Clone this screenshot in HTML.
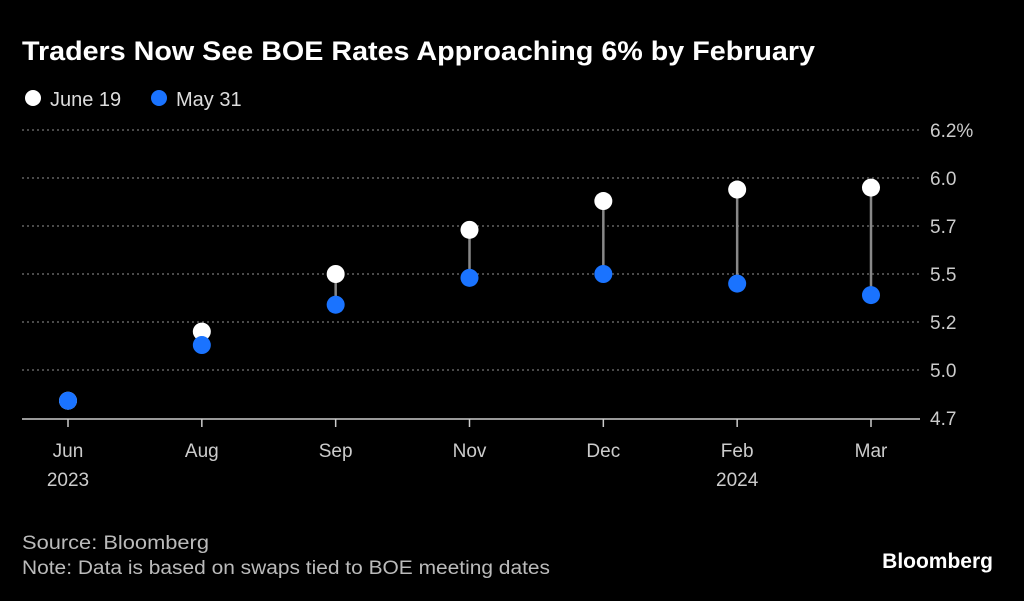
<!DOCTYPE html>
<html><head><meta charset="utf-8"><style>
body{margin:0;background:#000;width:1024px;height:596px;overflow:hidden;font-family:"Liberation Sans",sans-serif;color:#fff}
</style></head><body>
<svg width="1024" height="596" font-family="Liberation Sans, sans-serif">
<text x="22" y="60" font-size="27" font-weight="bold" fill="#fff" textLength="793" lengthAdjust="spacingAndGlyphs">Traders Now See BOE Rates Approaching 6% by February</text>
<g>
<circle cx="33" cy="98" r="8" fill="#fff"/>
<text x="50" y="106" font-size="20" fill="#ddd">June 19</text>
<circle cx="159" cy="98" r="8" fill="#1a73ff"/>
<text x="176" y="106" font-size="20" fill="#ddd">May 31</text>
</g>
<g id="grid"></g><g id="marks"></g>
<text x="22" y="549" font-size="19" fill="#bbb" textLength="187" lengthAdjust="spacingAndGlyphs">Source: Bloomberg</text>
<text x="22" y="574" font-size="19" fill="#bbb" textLength="528" lengthAdjust="spacingAndGlyphs">Note: Data is based on swaps tied to BOE meeting dates</text>
<text x="993" y="568" font-size="21" font-weight="bold" fill="#fff" text-anchor="end">Bloomberg</text>
</svg>
<script>
const categories=["Jun","Aug","Sep","Nov","Dec","Feb","Mar"];
const yearLabels=["2023","","","","","2024",""];
const june19=[4.84,5.20,5.50,5.73,5.88,5.94,5.95];
const may31=[4.84,5.13,5.34,5.48,5.50,5.45,5.39];
const yTicks=[4.75,5.0,5.25,5.5,5.75,6.0,6.25];
const yTickLabels=["4.7","5.0","5.2","5.5","5.7","6.0","6.2%"];
const ns="http://www.w3.org/2000/svg";
const y=v=>418-(v-4.75)*192;
const x=i=>68+i*(871-68)/6;
function mk(t,a,p){const e=document.createElementNS(ns,t);for(const k in a)e.setAttribute(k,a[k]);p.appendChild(e);return e;}
const g=document.getElementById('grid'),m=document.getElementById('marks');
yTicks.forEach((v,i)=>{
 if(i>0){const l=mk('line',{x1:22,x2:920,y1:y(v),y2:y(v),stroke:'#777','stroke-dasharray':'2,3','stroke-width':1.2},g);
 
 }
 const t=mk('text',{x:930,y:y(v)+7,'font-size':19,fill:'#ccc'},g);t.textContent=yTickLabels[i];
 
 
});
const ax=mk('line',{x1:22,x2:920,y1:419,y2:419,stroke:'#ccc','stroke-width':1.5},g);


categories.forEach((c,i)=>{
 const tk=mk('line',{x1:x(i),x2:x(i),y1:419,y2:427,stroke:'#ccc','stroke-width':1.5},g);
 
 
 const t=mk('text',{x:x(i),y:457,'font-size':19,fill:'#ccc','text-anchor':'middle'},g);t.textContent=c;
 
 
 if(yearLabels[i]){const t2=mk('text',{x:x(i),y:486,'font-size':19,fill:'#ccc','text-anchor':'middle'},g);t2.textContent=yearLabels[i];
 
 }
 const ln=mk('line',{x1:x(i),x2:x(i),y1:y(june19[i]),y2:y(may31[i]),stroke:'#888','stroke-width':2.5},m);
 
 
 const w=mk('circle',{cx:x(i),cy:y(june19[i]),r:9,fill:'#fff'},m);
 
 
 const b=mk('circle',{cx:x(i),cy:y(may31[i]),r:9,fill:'#1a73ff'},m);
 
 
});
</script>
</body></html>
